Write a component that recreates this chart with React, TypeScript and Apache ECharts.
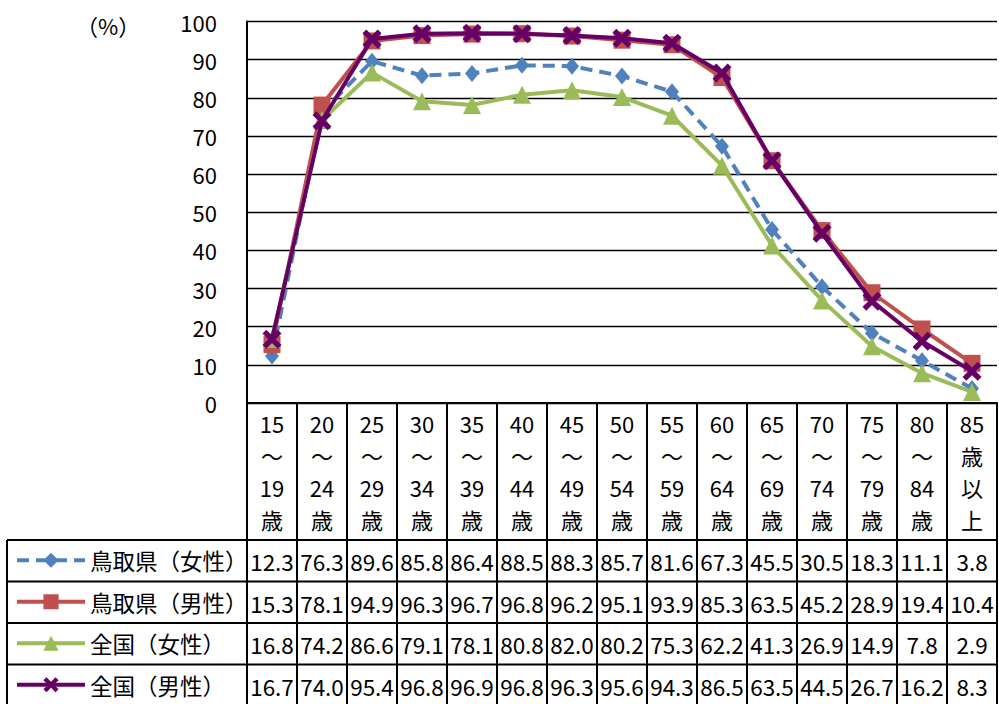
import React, { useEffect, useRef } from "react";
import * as echarts from "echarts";

const categories = [
  "15\n～\n19\n歳", "20\n～\n24\n歳", "25\n～\n29\n歳", "30\n～\n34\n歳", "35\n～\n39\n歳",
  "40\n～\n44\n歳", "45\n～\n49\n歳", "50\n～\n54\n歳", "55\n～\n59\n歳", "60\n～\n64\n歳",
  "65\n～\n69\n歳", "70\n～\n74\n歳", "75\n～\n79\n歳", "80\n～\n84\n歳", "85\n歳\n以\n上",
];
const seriesNames = ["鳥取県（女性）", "鳥取県（男性）", "全国（女性）", "全国（男性）"];
const tottoriFemale = [12.3, 76.3, 89.6, 85.8, 86.4, 88.5, 88.3, 85.7, 81.6, 67.3, 45.5, 30.5, 18.3, 11.1, 3.8];
const tottoriMale = [15.3, 78.1, 94.9, 96.3, 96.7, 96.8, 96.2, 95.1, 93.9, 85.3, 63.5, 45.2, 28.9, 19.4, 10.4];
const nationalFemale = [16.8, 74.2, 86.6, 79.1, 78.1, 80.8, 82.0, 80.2, 75.3, 62.2, 41.3, 26.9, 14.9, 7.8, 2.9];
const nationalMale = [16.7, 74.0, 95.4, 96.8, 96.9, 96.8, 96.3, 95.6, 94.3, 86.5, 63.5, 44.5, 26.7, 16.2, 8.3];
const yMin = 0;
const yMax = 100;
const yInterval = 10;
const unitLabel = "（%）";

const FONT = "'Noto Sans CJK JP', 'Noto Sans', sans-serif";
const colors = ["#4F81BD", "#C0504D", "#9BBB59", "#660066"];
const crossPath = "path://M0,2 L2,0 L5,3 L8,0 L10,2 L7,5 L10,8 L8,10 L5,7 L2,10 L0,8 L3,5 Z";

export default function App() {
  const ref = useRef<HTMLDivElement>(null);
  useEffect(() => {
    if (!ref.current) return;
    const chart = echarts.init(ref.current, undefined, { renderer: "svg" });
    const allSeries = [tottoriFemale, tottoriMale, nationalFemale, nationalMale];
    const symbols = ["diamond", "rect", "triangle", crossPath];
    const symbolSizes: any[] = [[14, 17], 17, 18, 19];
    const axisY = 403;
    const rowCenters = [561, 602.5, 644, 685.5];
    const rowLines = [540, 581.5, 623, 664.5];

    const dataAxes = allSeries.map((vals, k) => ({
      type: "category",
      gridIndex: 0,
      position: "bottom",
      offset: rowCenters[k] - axisY,
      data: categories,
      boundaryGap: true,
      axisLine: { show: false },
      axisTick: { show: false },
      axisLabel: {
        interval: 0,
        margin: 0,
        verticalAlign: "middle",
        fontSize: 22.5,
        fontFamily: FONT,
        color: "#000",
        formatter: (_v: string, i: number) => vals[i].toFixed(1),
      },
    }));

    const legends = seriesNames.map((name, k) => ({
      orient: "horizontal",
      left: 15,
      top: rowCenters[k] - 12,
      height: 24,
      padding: 0,
      itemWidth: 68,
      itemHeight: 19,
      lineStyle: { width: 4, color: colors[k], type: k === 0 ? [12, 7] : "solid" },
      textStyle: { fontSize: 22.5, color: "#000", fontFamily: FONT },
      data: [name],
    }));

    chart.setOption({
      animation: false,
      textStyle: { fontFamily: FONT },
      grid: { left: 247, right: 2, top: 21.5, bottom: 704 - axisY, containLabel: false },
      legend: legends,
      xAxis: [
        {
          type: "category",
          data: categories,
          boundaryGap: true,
          axisLine: { show: true, lineStyle: { color: "#000", width: 2 } },
          axisTick: { show: true, interval: 0, length: 303, lineStyle: { color: "#000", width: 2 } },
          axisLabel: {
            interval: 0,
            margin: 4,
            fontSize: 22,
            lineHeight: 32,
            color: "#000",
            fontFamily: FONT,
            verticalAlign: "top",
          },
          splitLine: { show: false },
        },
        ...dataAxes,
      ],
      yAxis: {
        type: "value",
        min: yMin,
        max: yMax,
        interval: yInterval,
        axisLine: { show: true, lineStyle: { color: "#000", width: 2 } },
        axisTick: { show: false },
        axisLabel: { margin: 30, fontSize: 22, color: "#000", fontFamily: FONT },
        splitLine: { show: true, lineStyle: { color: "#000", width: 1.4 } },
      },
      graphic: [
        {
          type: "text",
          left: 76,
          top: 14,
          style: { text: unitLabel, fontSize: 22, fill: "#000", fontFamily: FONT },
        },
        ...rowLines.map((y) => ({
          type: "line",
          shape: { x1: 7, y1: y, x2: 998, y2: y },
          style: { stroke: "#000", lineWidth: 2 },
        })),
        {
          type: "line",
          shape: { x1: 7, y1: 540, x2: 7, y2: 710 },
          style: { stroke: "#000", lineWidth: 2 },
        },
      ],
      series: allSeries.map((vals, k) => ({
        name: seriesNames[k],
        type: "line",
        data: vals,
        symbol: symbols[k],
        symbolSize: symbolSizes[k],
        color: colors[k],
        itemStyle: { color: colors[k] },
        lineStyle: {
          color: colors[k],
          width: 4,
          type: k === 0 ? [12, 7] : "solid",
        },
        z: 3 + k,
      })),
    });
    return () => chart.dispose();
  }, []);
  return (
    <div
      ref={ref}
      style={{ position: "fixed", left: 0, top: 0, width: 999, height: 704, background: "#fff" }}
    />
  );
}
